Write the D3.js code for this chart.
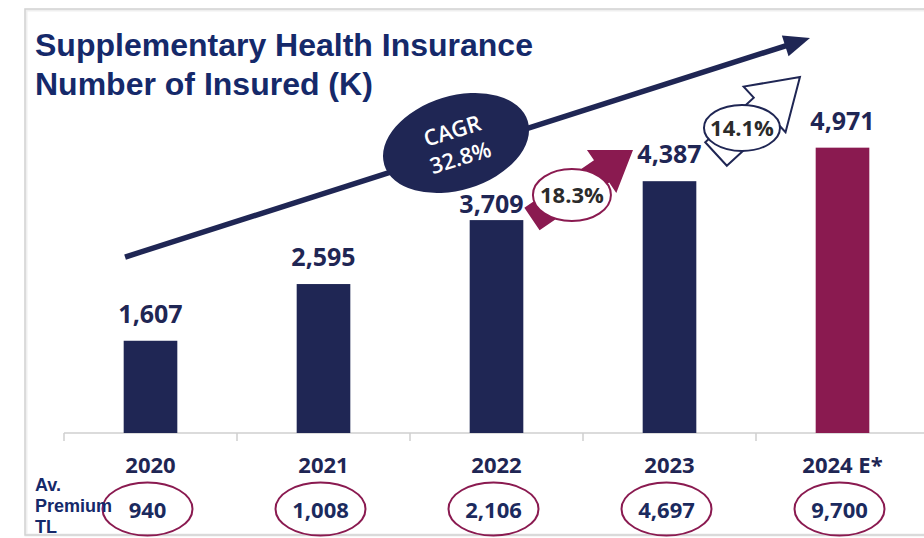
<!DOCTYPE html>
<html>
<head>
<meta charset="utf-8">
<script src="https://cdn.jsdelivr.net/npm/d3@7"></script>
<style>
  html, body { margin: 0; padding: 0; background: #ffffff; }
  svg { display: block; }
</style>
</head>
<body>
<svg id="chart" width="924" height="538"></svg>
<script>
// ---------- data ----------
const categories = ["2020", "2021", "2022", "2023", "2024 E*"];
const insured = [1607, 2595, 3709, 4387, 4971];
const avPremium = [940, 1008, 2106, 4697, 9700];
const titleLines = ["Supplementary Health Insurance", "Number of Insured (K)"];
const premiumLabel = ["Av.", "Premium", "TL"];
const cagrText = ["CAGR", "32.8%"];
const growthText = ["18.3%", "14.1%"];

// ---------- styles ----------
const NAVY = "#1f2654";
const MAROON = "#8a1a50";
const TITLE_BLUE = "#15296a";
const numFont = "'Open Sans', 'Noto Sans', sans-serif";
const arialFont = "'Liberation Sans', Arial, sans-serif";

const svg = d3.select("#chart");

// frame
svg.append("rect").attr("x", 26).attr("y", 10).attr("width", 940).attr("height", 525)
  .attr("fill", "none").attr("stroke", "#efefef").attr("stroke-width", 3);
svg.append("rect").attr("x", 25).attr("y", 9).attr("width", 940).attr("height", 526)
  .attr("fill", "none").attr("stroke", "#d3d3d3").attr("stroke-width", 1.5);

// ---------- scales ----------
const x = d3.scaleBand().domain(categories).range([64, 929]).paddingInner(0.69).paddingOuter(0.345);
const y = d3.scaleLinear().domain([0, 5000]).range([433, 146]);
const cx = c => x(c) + x.bandwidth() / 2;
const step = x.step();
// position helper for annotations: t in category units from first category centre
const px = t => cx(categories[0]) + t * step;

// ---------- axis ----------
const axisG = svg.append("g");
axisG.append("line").attr("x1", 64).attr("x2", 924).attr("y1", y(0)).attr("y2", y(0))
  .attr("stroke", "#cfcfcf").attr("stroke-width", 1.5);
categories.forEach(c => {
  const bx = cx(c) - step / 2;
  axisG.append("line").attr("x1", bx).attr("x2", bx).attr("y1", y(0)).attr("y2", y(0) + 8)
    .attr("stroke", "#cfcfcf").attr("stroke-width", 1.5);
});

// ---------- bars ----------
svg.append("g").selectAll("rect").data(insured).join("rect")
  .attr("x", (d, i) => x(categories[i]))
  .attr("y", d => y(d))
  .attr("width", x.bandwidth())
  .attr("height", d => y(0) - y(d))
  .attr("fill", (d, i) => i === categories.length - 1 ? MAROON : NAVY);

// value labels
const labelShift = [[0, 0], [0, 0], [-5, 11], [0, 0], [0, 0]];
svg.append("g").selectAll("text").data(insured).join("text")
  .attr("x", (d, i) => cx(categories[i]) + labelShift[i][0])
  .attr("y", (d, i) => y(d) - 18 + labelShift[i][1])
  .attr("text-anchor", "middle")
  .attr("font-family", numFont).attr("font-weight", 700).attr("font-size", 25)
  .attr("fill", NAVY)
  .text(d => d3.format(",")(d));

// category labels
svg.append("g").selectAll("text").data(categories).join("text")
  .attr("x", c => cx(c))
  .attr("y", 473)
  .attr("text-anchor", "middle")
  .attr("font-family", numFont).attr("font-weight", 700).attr("font-size", 22)
  .attr("fill", NAVY)
  .text(c => c);

// premium ellipses + values
const prem = svg.append("g");
avPremium.forEach((v, i) => {
  const ex = cx(categories[i]) - 3;
  prem.append("ellipse").attr("cx", ex).attr("cy", 509).attr("rx", 45).attr("ry", 26.5)
    .attr("fill", "none").attr("stroke", MAROON).attr("stroke-width", 2);
  prem.append("text").attr("x", ex).attr("y", 518).attr("text-anchor", "middle")
    .attr("font-family", numFont).attr("font-weight", 700).attr("font-size", 22)
    .attr("fill", "#1b2a5e").text(d3.format(",")(v));
});

// premium label
svg.append("g").selectAll("text").data(premiumLabel).join("text")
  .attr("x", 35).attr("y", (d, i) => 491 + i * 21)
  .attr("font-family", arialFont).attr("font-weight", 700).attr("font-size", 18)
  .attr("fill", TITLE_BLUE).text(d => d);

// title
svg.append("g").selectAll("text").data(titleLines).join("text")
  .attr("x", 35).attr("y", (d, i) => 56 + i * 39)
  .attr("font-family", arialFont).attr("font-weight", 700).attr("font-size", 32)
  .attr("fill", TITLE_BLUE).text(d => d);

// ---------- annotations ----------
function blockArrow(T, P, w, hw, hl) {
  const dx = P[0] - T[0], dy = P[1] - T[1];
  const L = Math.hypot(dx, dy);
  const u = [dx / L, dy / L], n = [-u[1], u[0]];
  const b = [T[0] + u[0] * (L - hl), T[1] + u[1] * (L - hl)];
  const pts = [
    [T[0] + n[0] * w / 2, T[1] + n[1] * w / 2],
    [b[0] + n[0] * w / 2, b[1] + n[1] * w / 2],
    [b[0] + n[0] * hw / 2, b[1] + n[1] * hw / 2],
    P,
    [b[0] - n[0] * hw / 2, b[1] - n[1] * hw / 2],
    [b[0] - n[0] * w / 2, b[1] - n[1] * w / 2],
    [T[0] - n[0] * w / 2, T[1] - n[1] * w / 2]
  ];
  return pts.map(p => p.join(",")).join(" ");
}

// big CAGR arrow
const A0 = [px(-0.147), y(3066)], A1 = [px(3.812), y(6882)];
{
  const dx = A1[0] - A0[0], dy = A1[1] - A0[1], L = Math.hypot(dx, dy);
  const u = [dx / L, dy / L], n = [-u[1], u[0]];
  const hl = 26, hw = 22;
  const b = [A1[0] - u[0] * hl, A1[1] - u[1] * hl];
  svg.append("line").attr("x1", A0[0]).attr("y1", A0[1]).attr("x2", b[0] + u[0] * 2).attr("y2", b[1] + u[1] * 2)
    .attr("stroke", NAVY).attr("stroke-width", 5.5);
  svg.append("polygon")
    .attr("points", [[b[0] + n[0] * hw / 2, b[1] + n[1] * hw / 2], A1, [b[0] - n[0] * hw / 2, b[1] - n[1] * hw / 2]]
      .map(p => p.join(",")).join(" "))
    .attr("fill", NAVY);
}
// CAGR ellipse
{
  const c = [px(1.766), y(5052)];
  const g = svg.append("g").attr("transform", `translate(${c[0]},${c[1]}) rotate(-17)`);
  g.append("ellipse").attr("rx", 75).attr("ry", 47).attr("fill", NAVY);
  g.selectAll("text").data(cagrText).join("text")
    .attr("x", 0).attr("y", (d, i) => -5 + i * 28)
    .attr("text-anchor", "middle")
    .attr("font-family", numFont).attr("font-weight", 600).attr("font-size", 22)
    .attr("fill", "#ffffff").text(d => d);
}

// 18.3% arrow (filled maroon)
{
  const T = [px(2.205), y(3728)], P = [px(2.789), y(4930)];
  svg.append("polygon").attr("points", blockArrow(T, P, 27, 52, 38)).attr("fill", MAROON);
  const c = [px(2.436), y(4146)];
  svg.append("ellipse").attr("cx", c[0]).attr("cy", c[1]).attr("rx", 39).attr("ry", 26)
    .attr("fill", "#ffffff").attr("stroke", MAROON).attr("stroke-width", 2);
  svg.append("text").attr("x", c[0]).attr("y", c[1] + 8).attr("text-anchor", "middle")
    .attr("font-family", numFont).attr("font-weight", 700).attr("font-size", 22)
    .attr("fill", "#2b2b2b").text(growthText[0]);
}

// 14.1% arrow (outlined navy)
{
  const T = [px(3.269), y(4861)], P = [px(3.754), y(6202)];
  svg.append("polygon").attr("points", blockArrow(T, P, 32, 62, 48))
    .attr("fill", "#ffffff").attr("stroke", NAVY).attr("stroke-width", 2).attr("stroke-linejoin", "miter");
  const c = [px(3.419), y(5314)];
  svg.append("ellipse").attr("cx", c[0]).attr("cy", c[1]).attr("rx", 38).attr("ry", 23)
    .attr("fill", "#ffffff").attr("stroke", NAVY).attr("stroke-width", 2);
  svg.append("text").attr("x", c[0]).attr("y", c[1] + 8).attr("text-anchor", "middle")
    .attr("font-family", numFont).attr("font-weight", 700).attr("font-size", 22)
    .attr("fill", "#2b2b2b").text(growthText[1]);
}
</script>
</body>
</html>
